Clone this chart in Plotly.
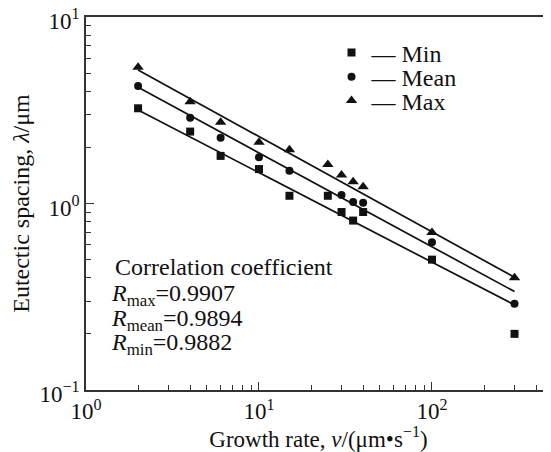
import plotly.graph_objects as go

# ---- data ----
growth_rate = [2, 4, 6, 10, 15, 25, 30, 35, 40, 100, 300]
spacing_min = [3.24, 2.43, 1.80, 1.53, 1.10, 1.10, 0.90, 0.81, 0.90, 0.50, 0.20]
spacing_mean = [4.27, 2.88, 2.25, 1.77, 1.50, None, 1.11, 1.02, 1.01, 0.62, 0.29]
spacing_max = [5.37, 3.51, 2.73, 2.13, 1.94, 1.62, 1.42, 1.31, 1.23, 0.70, 0.40]

fit_x = [2, 300]
fit_min = [3.17, 0.286]
fit_mean = [4.20, 0.337]
fit_max = [5.20, 0.402]

series_names = ["Min", "Mean", "Max"]
r_labels = ["max", "mean", "min"]
r_values = ["0.9907", "0.9894", "0.9882"]

x_tickvals = [1, 10, 100]
x_ticktext = ["10<sup>0</sup>", "10<sup>1</sup>", "10<sup>2</sup>"]
y_tickvals = [0.1, 1, 10]
y_ticktext = ["10<sup>−1</sup>", "10<sup>0</sup>", "10<sup>1</sup>"]

FONT = "Liberation Serif, Times New Roman, serif"
BLACK = "#111111"

fig = go.Figure()

# fitted lines
for fy in (fit_max, fit_mean, fit_min):
    fig.add_trace(go.Scatter(x=fit_x, y=fy, mode="lines",
                             line=dict(color=BLACK, width=1.7),
                             showlegend=False, hoverinfo="skip"))

# data points, each in its own legend box so the rows can sit close together
legend_ids = ["legend", "legend2", "legend3"]
for name, ys, sym, size, lid in zip(series_names,
                                    [spacing_min, spacing_mean, spacing_max],
                                    ["square", "circle", "triangle-up"],
                                    [8, 8, 10], legend_ids):
    fig.add_trace(go.Scatter(x=growth_rate, y=ys, mode="markers",
                             name="— " + name, legend=lid,
                             marker=dict(symbol=sym, size=size, color=BLACK),
                             showlegend=True))

minor_x = [m * 10 ** d for d in range(0, 3) for m in range(2, 10)]
minor_y = [m * 10 ** d for d in range(-1, 1) for m in range(2, 10)]

fig.update_xaxes(type="log", range=[0, 2.688], automargin=False,
                 tickvals=x_tickvals, ticktext=x_ticktext,
                 ticklabeloverflow="allow",
                 ticks="inside", ticklen=8, tickwidth=1.3, tickcolor="#333",
                 minor=dict(tickvals=minor_x, ticks="inside", ticklen=5,
                            tickwidth=1.2, tickcolor="#333"),
                 showline=True, linecolor="#333", linewidth=1.6, mirror=True,
                 showgrid=False, zeroline=False,
                 tickfont=dict(family=FONT, size=23, color=BLACK),
                 title=dict(text="Growth rate, <i>v</i>/(μm•s<sup>−1</sup>)",
                            font=dict(family=FONT, size=23, color=BLACK),
                            standoff=2))
fig.update_yaxes(type="log", range=[-1, 1], automargin=False,
                 tickvals=y_tickvals, ticktext=y_ticktext,
                 ticklabeloverflow="allow", ticklabelshift=4,
                 ticks="inside", ticklen=8, tickwidth=1.3, tickcolor="#333",
                 minor=dict(tickvals=minor_y, ticks="inside", ticklen=5,
                            tickwidth=1.2, tickcolor="#333"),
                 showline=True, linecolor="#333", linewidth=1.6, mirror=False,
                 showgrid=False, zeroline=False,
                 tickfont=dict(family=FONT, size=23, color=BLACK),
                 title=dict(text="Eutectic spacing, <i>λ</i>/μm",
                            font=dict(family=FONT, size=24, color=BLACK),
                            standoff=4))

# correlation annotation
fig.add_annotation(text="Correlation coefficient", xref="paper", yref="paper",
                   x=0.058, y=0.330, xanchor="left", yanchor="middle",
                   showarrow=False, font=dict(family=FONT, size=24, color=BLACK))
for i, (lab, val) in enumerate(zip(r_labels, r_values)):
    fig.add_annotation(text=f"<i>R</i><sub>{lab}</sub>={val}",
                       xref="paper", yref="paper",
                       x=0.050, y=0.255 - i * 0.066, xanchor="left", yanchor="middle",
                       showarrow=False, font=dict(family=FONT, size=24, color=BLACK))

legend_common = dict(xanchor="left", yanchor="middle", bgcolor="rgba(0,0,0,0)",
                     borderwidth=0, font=dict(family=FONT, size=24, color=BLACK),
                     itemwidth=30)
# the page body has an 8px default margin, so the figure is 8px smaller
fig.update_layout(
    width=543, height=444,
    margin=dict(l=78, r=0, t=9, b=62, autoexpand=False),
    paper_bgcolor="white", plot_bgcolor="white",
    showlegend=True,
    legend=dict(x=0.528, y=0.9035, **legend_common),
    legend2=dict(x=0.528, y=0.839, **legend_common),
    legend3=dict(x=0.528, y=0.775, **legend_common),
)

fig.write_html("out.html")
